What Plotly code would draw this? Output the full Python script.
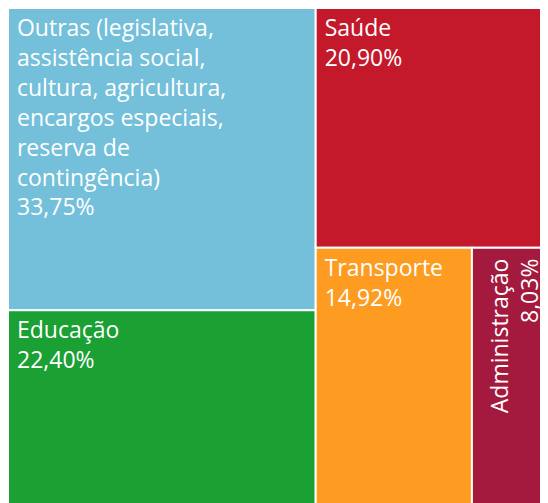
import plotly.graph_objects as go

# ── Data ──────────────────────────────────────────────────────────────────────
labels = [
    "Outras (legislativa,<br>assistência social,<br>cultura, agricultura,<br>"
    "encargos especiais,<br>reserva de<br>contingência)",
    "Educação",
    "Saúde",
    "Transporte",
    "Administração",
]
values = [33.75, 22.40, 20.90, 14.92, 8.03]
colors = ["#74c0da", "#1aa033", "#c4182b", "#fd9c21", "#a31a3e"]

pct_text = [f"{v:.2f}%".replace(".", ",") for v in values]


def indent(s):
    # nudge every line a little away from the tile edge
    return "<br>".join("\u00a0" + part for part in s.split("<br>"))


# the narrow Administração tile gets a rotated annotation instead
texts = [indent(f"{lab}<br>{p}") for lab, p in zip(labels, pct_text)]
texts[-1] = ""

fig = go.Figure(
    go.Treemap(
        labels=labels,
        parents=[""] * len(labels),
        values=values,
        text=texts,
        texttemplate="%{text}",
        textposition="top left",
        textfont=dict(family="Open Sans", size=23, color="white"),
        marker=dict(colors=colors, line=dict(color="white", width=2), pad=dict(t=0, l=0, r=0, b=0)),
        tiling=dict(packing="squarify", squarifyratio=1.618, pad=0),
        pathbar=dict(visible=False),
        sort=True,
        hoverinfo="label+value",
    )
)

# position of the Administração tile, from the squarify layout of the values
total = sum(values)
left_frac = (values[0] + values[1]) / total
right_rest = values[2] + values[3] + values[4]
admin_x0 = left_frac + (1 - left_frac) * values[3] / (values[3] + values[4])
row_top = 1 - values[2] / right_rest

fig.add_annotation(
    x=(admin_x0 + 1) / 2,
    y=row_top,
    xref="paper",
    yref="paper",
    text=f"Administração<br>{pct_text[-1]}",
    textangle=-90,
    align="right",
    showarrow=False,
    xanchor="center",
    yanchor="top",
    yshift=-8,
    font=dict(family="Open Sans", size=23, color="white"),
)

fig.update_layout(
    width=548,
    height=503,
    margin=dict(l=0, r=0, t=0, b=0),
    paper_bgcolor="white",
    showlegend=False,
)

fig.write_html("out.html")
